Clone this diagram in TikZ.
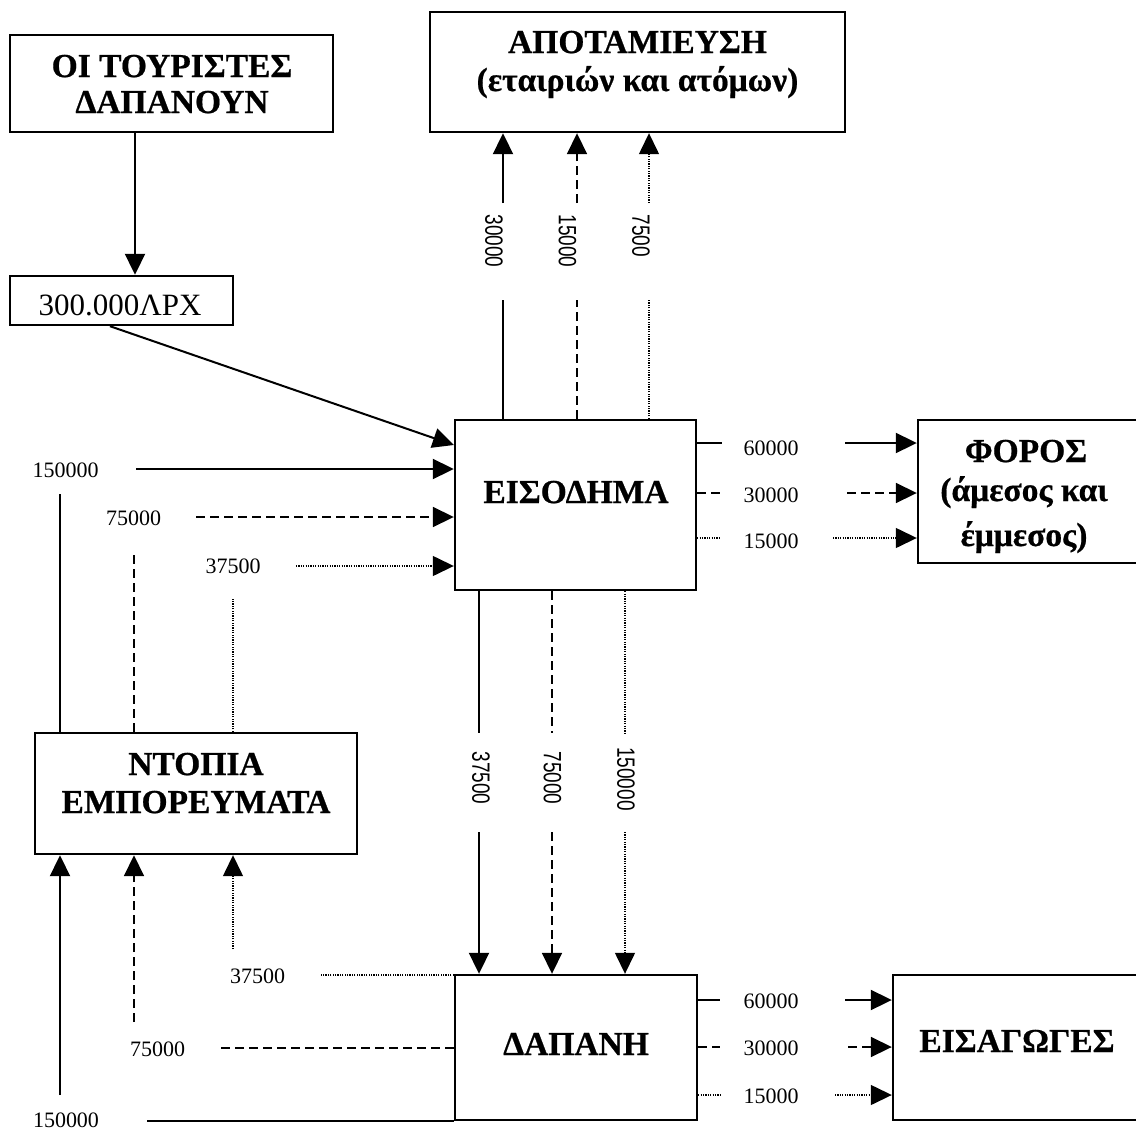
\documentclass[tikz,border=0pt]{standalone}
\usepackage{fontspec}
\setmainfont[BoldFeatures={FakeBold=0.6}]{Liberation Serif}
\newfontfamily\numsf[FakeStretch=0.76]{Liberation Sans}
\usetikzlibrary{arrows.meta}
\begin{document}
\begin{tikzpicture}[x=1pt,y=-1pt,
  box/.style={draw, line width=2.4pt, rectangle, inner sep=0pt},
  ttl/.style={font=\bfseries\fontsize{33.5}{38}\selectfont, anchor=base, inner sep=0pt},
  num/.style={font=\fontsize{22}{26}\selectfont, anchor=base, inner sep=0pt},
  rnum/.style={font=\numsf\fontsize{25}{28}\selectfont, rotate=-90, inner sep=0pt},
  sol/.style={line width=2pt},
  dsh/.style={line width=1.8pt, dash pattern=on 9pt off 5pt},
  dot/.style={line width=1.4pt, dash pattern=on 1.2pt off 1.2pt},
  tip/.style={-{Triangle[length=21pt,width=20pt]}},
]
\useasboundingbox (0,0) rectangle (1136,1135);
\fill[white] (0,0) rectangle (1136,1135);
\clip (0,0) rectangle (1136,1135);

% boxes
\node[box, minimum width=323pt, minimum height=97pt] (tour) at (171.5,83.5) {};
\node[box, minimum width=223pt, minimum height=49pt] (drx) at (121.5,300.5) {};
\node[box, minimum width=415pt, minimum height=120pt] (apo) at (637.5,72) {};
\node[box, minimum width=241pt, minimum height=170pt] (eis) at (575.5,505) {};
\node[box, minimum width=220pt, minimum height=143pt] (foros) at (1028,491.5) {};
\node[box, minimum width=322pt, minimum height=121pt] (ntop) at (196,793.5) {};
\node[box, minimum width=242pt, minimum height=145pt] (dap) at (576,1047.5) {};
\node[box, minimum width=248pt, minimum height=145pt] (eisag) at (1017,1047.5) {};

% box texts
\node[ttl] (tourA) at (172,77) {ΟΙ ΤΟΥΡΙΣΤΕΣ};
\node[ttl] (tourB) at (172,113) {ΔΑΠΑΝΟΥΝ};
\node[ttl] (apoA) at (637.5,53) {ΑΠΟΤΑΜΙΕΥΣΗ};
\node[ttl] (apoB) at (637.5,91) {(εταιριών και ατόμων)};
\node[ttl] (eisT) at (576,503) {ΕΙΣΟΔΗΜΑ};
\node[ttl] (forA) at (1026,462) {ΦΟΡΟΣ};
\node[ttl] (forB) at (1024,501) {(άμεσος και};
\node[ttl] (forC) at (1024,546) {έμμεσος)};
\node[ttl] (ntA) at (196,775) {ΝΤΟΠΙΑ};
\node[ttl] (ntB) at (196,813) {ΕΜΠΟΡΕΥΜΑΤΑ};
\node[ttl] (dapT) at (576,1055) {ΔΑΠΑΝΗ};
\node[ttl] (eisagT) at (1017,1052) {ΕΙΣΑΓΩΓΕΣ};
\node[anchor=base, inner sep=0pt, font=\fontsize{31}{36}\selectfont] (drxT) at (120,315) {300.000ΛΡΧ};

% number labels
\node[num] (l150a) at (65.5,477) {150000};
\node[num] (l75a) at (133.5,525) {75000};
\node[num] (l37a) at (233,573) {37500};
\node[num] (l60a) at (771,455) {60000};
\node[num] (l30a) at (771,502) {30000};
\node[num] (l15a) at (771,548) {15000};
\node[num] (l60b) at (771,1008) {60000};
\node[num] (l30b) at (771,1055) {30000};
\node[num] (l15b) at (771,1103) {15000};
\node[num] (l37b) at (257.5,983) {37500};
\node[num] (l75b) at (157.5,1056) {75000};
\node[num] (l150b) at (66,1127) {150000};

\node[rnum] (r30) at (494,241) {30000};
\node[rnum] (r15) at (567.5,241) {15000};
\node[rnum] (r7) at (641,236) {7500};
\node[rnum] (r37) at (481,778) {37500};
\node[rnum] (r75) at (552.5,778) {75000};
\node[rnum] (r150) at (626,779) {150000};

% coordinates
\coordinate (a1) at (135,0);
\coordinate (d1) at (110,0);
\coordinate (e1) at (0,445);
\coordinate (u1lo) at (503,300); \coordinate (u1hi) at (503,203);
\coordinate (u2lo) at (577,300); \coordinate (u2hi) at (577,203);
\coordinate (u3lo) at (649,300); \coordinate (u3hi) at (649,203);
\coordinate (h1) at (136,469);
\coordinate (h2) at (196,517);
\coordinate (h3) at (296,566);
\coordinate (v1) at (60,494);
\coordinate (v2) at (134,550);
\coordinate (v3) at (233,598);
\coordinate (w1t) at (479,733); \coordinate (w1b) at (479,832);
\coordinate (w2t) at (552,733); \coordinate (w2b) at (552,832);
\coordinate (w3t) at (625,733); \coordinate (w3b) at (625,832);
\coordinate (s1) at (722,443); \coordinate (t1) at (845,443);
\coordinate (s2) at (720,493); \coordinate (t2) at (847,493);
\coordinate (s3) at (720,538); \coordinate (t3) at (833,538);
\coordinate (s4) at (720,1000); \coordinate (t4) at (845,1000);
\coordinate (s5) at (720,1047); \coordinate (t5) at (848,1047);
\coordinate (s6) at (720,1095); \coordinate (t6) at (835,1095);
\coordinate (b3) at (321,975); \coordinate (c3) at (233,949);
\coordinate (b2) at (221,1048); \coordinate (c2) at (134,1022);
\coordinate (b1) at (147,1121); \coordinate (c1) at (60,1095);

% connectors
\draw[sol,tip] (tour.south -| a1) -- (drx.north -| a1);
\draw[sol,tip] (drx.south -| d1) -- (eis.west |- e1);

\draw[sol] (eis.north -| u1lo) -- (u1lo);
\draw[sol,tip] (u1hi) -- (apo.south -| u1hi);
\draw[dsh] (eis.north -| u2lo) -- (u2lo);
\draw[dsh,tip] (u2hi) -- (apo.south -| u2hi);
\draw[dot] (eis.north -| u3lo) -- (u3lo);
\draw[dot,tip] (u3hi) -- (apo.south -| u3hi);

\draw[sol,tip] (h1) -- (eis.west |- h1);
\draw[dsh,tip] (h2) -- (eis.west |- h2);
\draw[dot,tip] (h3) -- (eis.west |- h3);
\draw[sol] (ntop.north -| v1) -- (v1);
\draw[dsh] (ntop.north -| v2) -- (v2);
\draw[dot] (ntop.north -| v3) -- (v3);

\draw[sol] (eis.south -| w1t) -- (w1t);
\draw[sol,tip] (w1b) -- (dap.north -| w1b);
\draw[dsh] (eis.south -| w2t) -- (w2t);
\draw[dsh,tip] (w2b) -- (dap.north -| w2b);
\draw[dot] (eis.south -| w3t) -- (w3t);
\draw[dot,tip] (w3b) -- (dap.north -| w3b);

\draw[sol] (eis.east |- s1) -- (s1);
\draw[sol,tip] (t1) -- (foros.west |- t1);
\draw[dsh] (eis.east |- s2) -- (s2);
\draw[dsh,tip] (t2) -- (foros.west |- t2);
\draw[dot] (eis.east |- s3) -- (s3);
\draw[dot,tip] (t3) -- (foros.west |- t3);

\draw[sol] (dap.east |- s4) -- (s4);
\draw[sol,tip] (t4) -- (eisag.west |- t4);
\draw[dsh] (dap.east |- s5) -- (s5);
\draw[dsh,tip] (t5) -- (eisag.west |- t5);
\draw[dot] (dap.east |- s6) -- (s6);
\draw[dot,tip] (t6) -- (eisag.west |- t6);

\draw[dot] (dap.west |- b3) -- (b3);
\draw[dot,tip] (c3) -- (ntop.south -| c3);
\draw[dsh] (dap.west |- b2) -- (b2);
\draw[dsh,tip] (c2) -- (ntop.south -| c2);
\draw[sol] (dap.west |- b1) -- (b1);
\draw[sol,tip] (c1) -- (ntop.south -| c1);
\end{tikzpicture}
\end{document}
